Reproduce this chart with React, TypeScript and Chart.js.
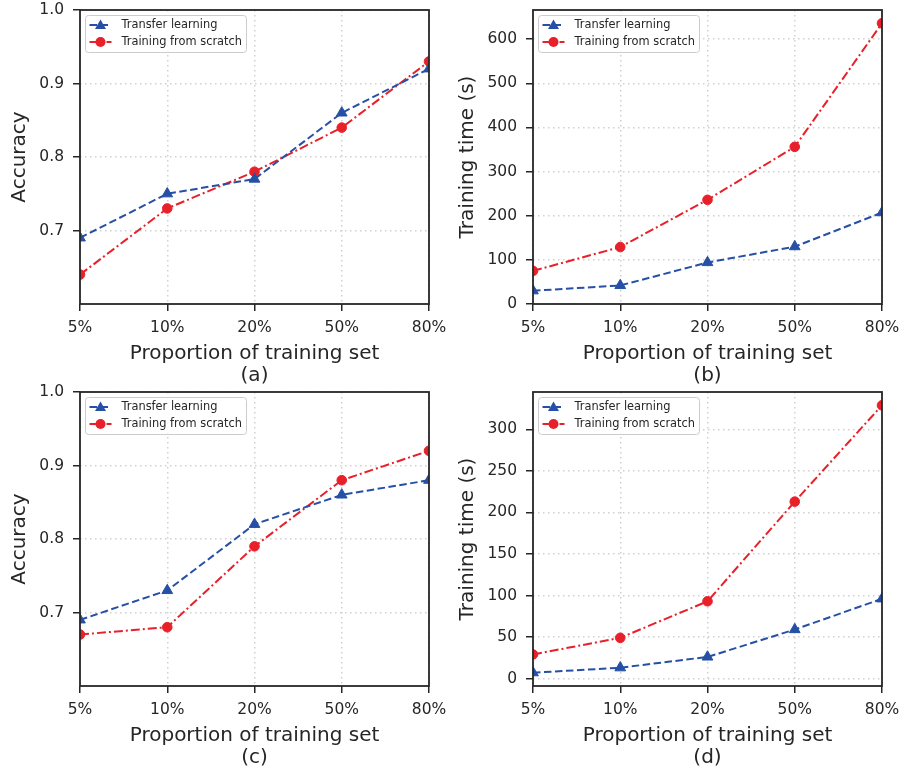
import React, { useEffect, useRef } from "react";
import { Chart, registerables } from "chart.js";

Chart.register(...registerables);

// ---------- data ----------
const categories = ["5%", "10%", "20%", "50%", "80%"];
const seriesNames = ["Transfer learning", "Training from scratch"];

const accTransferA = [0.69, 0.75, 0.77, 0.86, 0.92];
const accScratchA = [0.64, 0.73, 0.78, 0.84, 0.93];

const timeTransferB = [30, 42, 94, 130, 207];
const timeScratchB = [75, 129, 236, 356, 636];

const accTransferC = [0.69, 0.73, 0.82, 0.86, 0.88];
const accScratchC = [0.67, 0.68, 0.79, 0.88, 0.92];

const timeTransferD = [7, 13, 26, 59, 96];
const timeScratchD = [29, 49, 93, 213, 329];

const accTicks = [0.7, 0.8, 0.9, 1.0];
const timeTicksB = [0, 100, 200, 300, 400, 500, 600];
const timeTicksD = [0, 50, 100, 150, 200, 250, 300];

const xTitle = "Proportion of training set";
const panelLabels = ["(a)", "(b)", "(c)", "(d)"];
const yTitles = ["Accuracy", "Training time (s)"];

// ---------- style ----------
const BLUE = "#2650a6";
const RED = "#e8202a";
const INK = "#262626";
const GRID = "#d0d0d0";
const FONT = "'DejaVu Sans', sans-serif";

const frameLegendPlugin = {
  id: "frameLegend",
  afterDraw(chart: any) {
    const { ctx, chartArea: a } = chart;
    ctx.save();
    // frame (all four spines)
    ctx.setLineDash([]);
    ctx.strokeStyle = INK;
    ctx.lineWidth = 1.8;
    ctx.strokeRect(a.left, a.top, a.right - a.left, a.bottom - a.top);

    // legend box
    const x = a.left + 5.5;
    const y = a.top + 5.5;
    const w = 161;
    const h = 37;
    const r = 3;
    ctx.beginPath();
    ctx.moveTo(x + r, y);
    ctx.lineTo(x + w - r, y);
    ctx.arcTo(x + w, y, x + w, y + r, r);
    ctx.lineTo(x + w, y + h - r);
    ctx.arcTo(x + w, y + h, x + w - r, y + h, r);
    ctx.lineTo(x + r, y + h);
    ctx.arcTo(x, y + h, x, y + h - r, r);
    ctx.lineTo(x, y + r);
    ctx.arcTo(x, y, x + r, y, r);
    ctx.closePath();
    ctx.fillStyle = "rgba(255,255,255,0.85)";
    ctx.fill();
    ctx.strokeStyle = "#cccccc";
    ctx.lineWidth = 1;
    ctx.stroke();

    chart.data.datasets.forEach((ds: any, i: number) => {
      const cy = y + 9.5 + i * 17;
      ctx.strokeStyle = ds.borderColor;
      ctx.lineWidth = 2;
      ctx.setLineDash(ds.borderDash || []);
      ctx.beginPath();
      ctx.moveTo(x + 4, cy);
      ctx.lineTo(x + 26, cy);
      ctx.stroke();
      ctx.setLineDash([]);
      ctx.fillStyle = ds.borderColor;
      const mx = x + 15;
      ctx.beginPath();
      if (ds.pointStyle === "triangle") {
        ctx.moveTo(mx, cy - 5.5);
        ctx.lineTo(mx + 5.5, cy + 4);
        ctx.lineTo(mx - 5.5, cy + 4);
        ctx.closePath();
      } else {
        ctx.arc(mx, cy, 5, 0, Math.PI * 2);
      }
      ctx.fill();
      ctx.fillStyle = INK;
      ctx.font = `11.4px ${FONT}`;
      ctx.textBaseline = "middle";
      ctx.textAlign = "left";
      ctx.fillText(ds.label, x + 36, cy);
    });
    ctx.restore();
  },
};

type PanelProps = {
  left: number;
  top: number;
  width: number;
  height: number;
  yWidth: number;
  padRight: number;
  yMin: number;
  yMax: number;
  yTickValues: number[];
  decimals: number;
  yTitle: string;
  yTitlePad: number;
  label: string;
  transfer: number[];
  scratch: number[];
};

function Panel(p: PanelProps) {
  const ref = useRef<HTMLCanvasElement | null>(null);
  useEffect(() => {
    if (!ref.current) return;
    const chart = new Chart(ref.current, {
      type: "line",
      data: {
        labels: categories,
        datasets: [
          {
            label: seriesNames[0],
            data: p.transfer,
            borderColor: BLUE,
            backgroundColor: BLUE,
            borderWidth: 2,
            borderDash: [7.5, 3.5],
            pointStyle: "triangle",
            pointRadius: 6.2,
            pointBorderWidth: 1,
            pointBackgroundColor: BLUE,
            pointBorderColor: BLUE,
            tension: 0,
            fill: false,
            clip: 0,
          } as any,
          {
            label: seriesNames[1],
            data: p.scratch,
            borderColor: RED,
            backgroundColor: RED,
            borderWidth: 2,
            borderDash: [9, 3, 2, 3],
            pointStyle: "circle",
            pointRadius: 4.8,
            pointBorderWidth: 1,
            pointBackgroundColor: RED,
            pointBorderColor: RED,
            tension: 0,
            fill: false,
            clip: 0,
          } as any,
        ],
      },
      options: {
        animation: false,
        responsive: false,
        maintainAspectRatio: false,
        layout: { padding: { top: 10, right: p.padRight, bottom: 1, left: 0 } },
        plugins: {
          legend: { display: false },
          tooltip: { enabled: false },
        },
        scales: {
          x: {
            type: "category",
            offset: false,
            grid: {
              color: GRID,
              lineWidth: 1.5,
              drawTicks: true,
              tickLength: 7,
              tickColor: INK,
              tickWidth: 1.5,
            },
            border: { display: false, dash: [1.5, 3.5] },
            ticks: {
              color: INK,
              font: { family: FONT, size: 15.5 },
              padding: 8,
              maxRotation: 0,
              autoSkip: false,
            },
            title: {
              display: true,
              text: [xTitle, p.label],
              color: INK,
              font: { family: FONT, size: 20, lineHeight: 1.1 },
              padding: { top: 0, bottom: 0 },
            },
            afterFit: (s: any) => {
              s.height = 83;
              s.paddingLeft = 0;
              s.paddingRight = 0;
              s.paddingTop = 0;
              s.paddingBottom = 0;
            },
          } as any,
          y: {
            type: "linear",
            min: p.yMin,
            max: p.yMax,
            grid: {
              color: GRID,
              lineWidth: 1.5,
              drawTicks: true,
              tickLength: 7,
              tickColor: INK,
              tickWidth: 1.5,
            },
            border: { display: false, dash: [1.5, 3.5] },
            afterBuildTicks: (s: any) => {
              s.ticks = p.yTickValues.map((v) => ({ value: v }));
            },
            ticks: {
              color: INK,
              font: { family: FONT, size: 15.5 },
              padding: 9,
              callback: (v: any) => Number(v).toFixed(p.decimals),
            },
            title: {
              display: true,
              text: p.yTitle,
              color: INK,
              font: { family: FONT, size: 20, lineHeight: 1.1 },
              padding: { top: p.yTitlePad, bottom: 0 },
            },
            afterFit: (s: any) => {
              s.width = p.yWidth;
              s.paddingLeft = 0;
              s.paddingRight = 0;
              s.paddingTop = 0;
              s.paddingBottom = 0;
            },
          } as any,
        },
      },
      plugins: [frameLegendPlugin],
    });
    return () => chart.destroy();
  }, []);
  return (
    <canvas
      ref={ref}
      width={p.width}
      height={p.height}
      style={{
        position: "absolute",
        left: p.left,
        top: p.top,
        width: p.width,
        height: p.height,
      }}
    />
  );
}

export default function App() {
  return (
    <div
      style={{
        position: "absolute",
        left: 0,
        top: 0,
        width: 901,
        height: 770,
        background: "#ffffff",
        overflow: "hidden",
      }}
    >
      <Panel
        left={0}
        top={0}
        width={450}
        height={388}
        yWidth={80}
        padRight={21}
        yMin={0.6}
        yMax={1.0}
        yTickValues={accTicks}
        decimals={1}
        yTitle={yTitles[0]}
        yTitlePad={9}
        label={panelLabels[0]}
        transfer={accTransferA}
        scratch={accScratchA}
      />
      <Panel
        left={450}
        top={0}
        width={451}
        height={388}
        yWidth={83}
        padRight={19}
        yMin={0}
        yMax={666}
        yTickValues={timeTicksB}
        decimals={0}
        yTitle={yTitles[1]}
        yTitlePad={7}
        label={panelLabels[1]}
        transfer={timeTransferB}
        scratch={timeScratchB}
      />
      <Panel
        left={0}
        top={382}
        width={450}
        height={388}
        yWidth={80}
        padRight={21}
        yMin={0.6}
        yMax={1.0}
        yTickValues={accTicks}
        decimals={1}
        yTitle={yTitles[0]}
        yTitlePad={9}
        label={panelLabels[2]}
        transfer={accTransferC}
        scratch={accScratchC}
      />
      <Panel
        left={450}
        top={382}
        width={451}
        height={388}
        yWidth={83}
        padRight={19}
        yMin={-9}
        yMax={345}
        yTickValues={timeTicksD}
        decimals={0}
        yTitle={yTitles[1]}
        yTitlePad={7}
        label={panelLabels[3]}
        transfer={timeTransferD}
        scratch={timeScratchD}
      />
    </div>
  );
}
